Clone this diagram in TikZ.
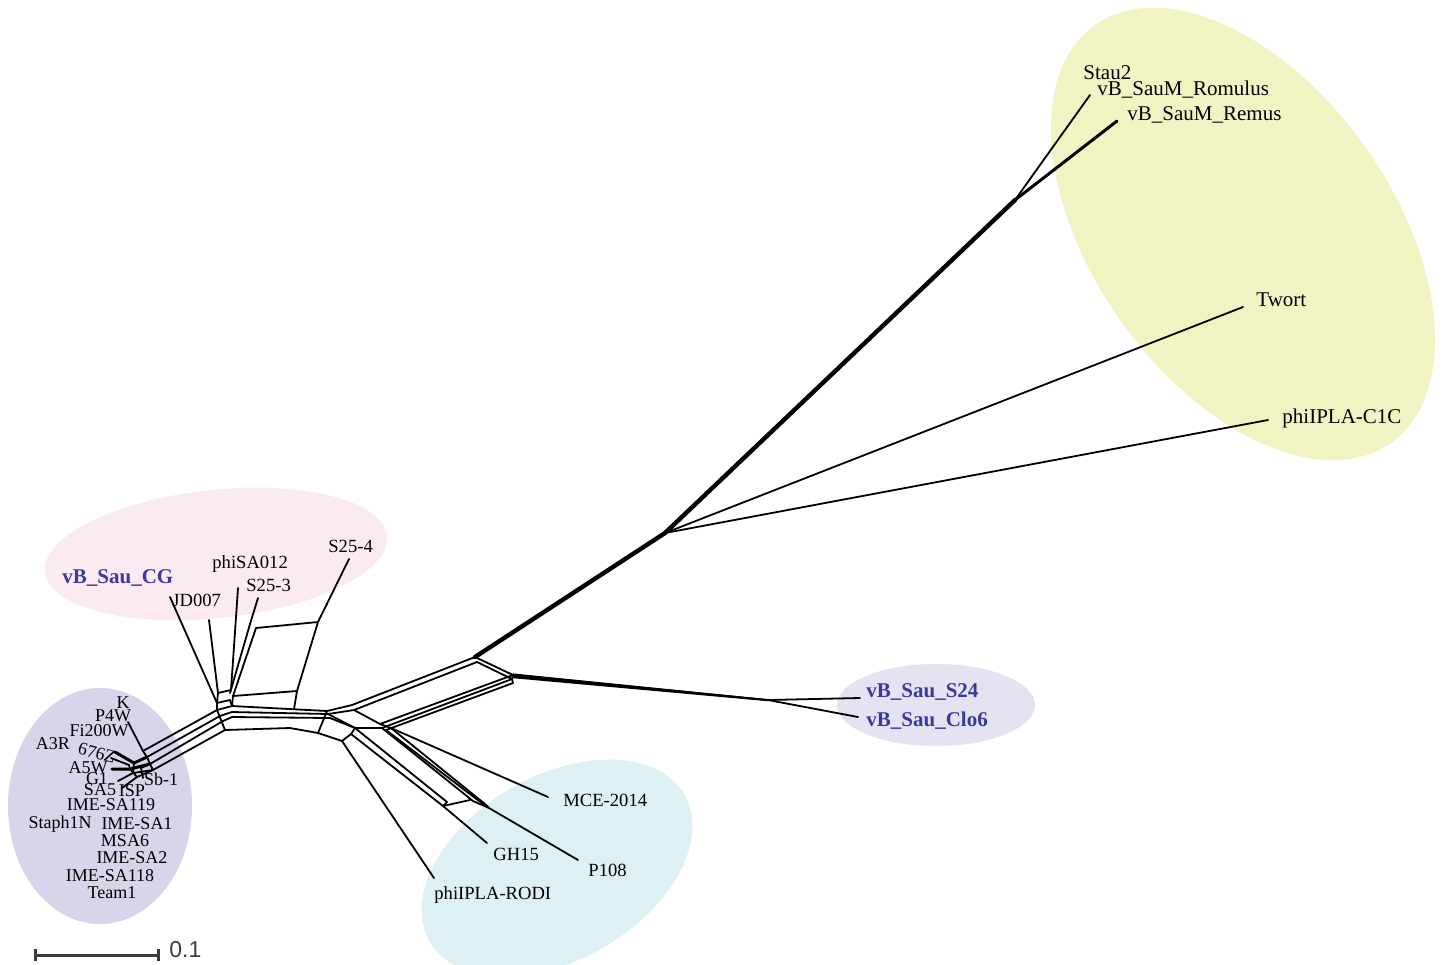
\documentclass[tikz,border=0pt]{standalone}
\usepackage{fontspec}
\setmainfont{Liberation Serif}
\newfontfamily\sansf{Liberation Sans}
\definecolor{ylw}{RGB}{242,243,195}
\definecolor{pnk}{RGB}{252,234,242}
\definecolor{lavL}{RGB}{216,213,234}
\definecolor{lavR}{RGB}{229,226,241}
\definecolor{cyn}{RGB}{221,240,244}
\definecolor{cgblue}{RGB}{58,58,158}
\definecolor{barc}{RGB}{60,60,60}
\tikzset{
  edge/.style={line width=0.9pt, line join=round, line cap=round},
  medge/.style={line width=1.5pt, line join=round, line cap=round},
  hedge/.style={line width=2.2pt, line join=round, line cap=round},
  lab/.style={inner sep=0pt, anchor=west, font=\fontsize{10.5}{12}\selectfont},
  slab/.style={inner sep=0pt, anchor=west, font=\fontsize{9.3}{11}\selectfont},
  clab/.style={inner sep=0pt, anchor=center, font=\fontsize{9}{10}\selectfont},
  blab/.style={inner sep=0pt, anchor=west, font=\fontsize{10.5}{12}\selectfont\bfseries, text=cgblue},
}
\begin{document}
\begin{tikzpicture}[x=0.5pt,y=-0.5pt]
\useasboundingbox (0,0) rectangle (1443,964);
\fill[white] (0,0) rectangle (1443,964);
% background ellipses
\coordinate (cY) at (1243,234);
\coordinate (cP) at (216,554);
\coordinate (cL) at (100,806);
\coordinate (cR) at (936,705);
\coordinate (cC) at (557,868);
\fill[ylw, rotate around={-54.7:(cY)}] (cY) ellipse [x radius=256, y radius=150];
\fill[pnk, rotate around={6:(cP)}] (cP) ellipse [x radius=172, y radius=64];
\fill[lavL] (cL) ellipse [x radius=92, y radius=118];
\fill[lavR] (cR) ellipse [x radius=99, y radius=41];
\fill[cyn, rotate around={30:(cC)}] (cC) ellipse [x radius=147, y radius=92];

% ---------- right part of the network ----------
\coordinate (tA) at (475,657);
\coordinate (tA2) at (477,662);
\coordinate (tB) at (513,675);
\coordinate (tB2) at (512,679);
\coordinate (tB3) at (513,683);
\coordinate (tC) at (665,533);
\coordinate (tD) at (1015,200);
\coordinate (eRom) at (1090,95);
\coordinate (eRem) at (1117,121);
\coordinate (eTw) at (1243,307);
\coordinate (eC1C) at (1268,420);
\coordinate (tS) at (768,700);
\coordinate (eS24) at (860,698);
\coordinate (eClo) at (858,717);

\draw[hedge] (tA) -- (tC) -- (tD);
\draw[medge] (tD) -- (eRem);
\draw[edge] (tD) -- (eRom);
\draw[edge] (tC) -- (eTw);
\draw[edge] (tC) -- (eC1C);
\draw[edge] (tA) -- (tB);
\draw[edge] (tA2) -- (tB2);
\fill ([yshift=0.8pt]tB) -- ([yshift=0.4pt]tS) -- ([yshift=-0.6pt]tS) -- ([yshift=-1.6pt]tB) -- cycle;
\draw[edge] (tB) -- (tS);
\draw[edge] (tB) -- (tB2) -- (tB3);
\draw[edge] (tS) -- (eS24);
\draw[edge] (tS) -- (eClo);

% ---------- central hub ----------
\coordinate (u1) at (352,705);
\coordinate (u2) at (354,710);
\coordinate (v1) at (380,724);
\coordinate (v2) at (382,728);
\coordinate (v3) at (386,730);
\coordinate (v4) at (391,728);
\coordinate (w1) at (355,728);
\coordinate (w2) at (351,734);
\coordinate (x1) at (342,741);
\coordinate (hr1) at (327,711);
\coordinate (hr2) at (328,714);
\coordinate (hr3) at (330,718);
\coordinate (hb) at (318,733);

\draw[edge] (hr1) -- (u1) -- (tA);
\draw[edge] (hr2) -- (u2) -- (tA2);
\draw[edge] (u2) -- (v1) -- (tB);
\draw[edge] (v2) -- (tB2);
\draw[edge] (v3) -- (tB3);
\draw[edge] (hr2) -- (w1) -- (v2);
\draw[edge] (hr3) -- (w1);
\draw[edge] (hb) -- (x1) -- (w2) -- (w1);
\draw[edge] (hr1) -- (hb);

% downward branches
\coordinate (eRodi) at (434,878);
\coordinate (g1) at (443,806);
\coordinate (g2) at (447,802);
\coordinate (eGH) at (487,843);
\coordinate (p0) at (470,800);
\coordinate (p1) at (473,801);
\coordinate (p2) at (479,801);
\coordinate (p3) at (485,804);
\coordinate (pc) at (489,808);
\coordinate (eP108) at (578,860);
\coordinate (eMCE) at (548,797);

\draw[edge] (x1) -- (eRodi);
\draw[edge] (w2) -- (g1) -- (eGH);
\draw[edge] (w1) -- (g2) -- (g1);
\draw[edge] (g1) -- (p0);
\draw[edge] (v2) -- (p1) -- (pc);
\draw[edge] (v3) -- (p2) -- (pc);
\draw[edge] (v4) -- (p3) -- (pc);
\draw[edge] (v1) -- (v4);
\draw[edge] (pc) -- (eP108);
\draw[edge] (v4) -- (eMCE);

% ---------- left horizontal band ----------
\coordinate (h1) at (217,710);
\coordinate (h2) at (220,716);
\coordinate (h3) at (223,721);
\coordinate (h4) at (225,730);
\coordinate (k1) at (232,706);
\coordinate (k2) at (232,712);
\coordinate (k3) at (232,717);
\coordinate (b1) at (290,728);
\coordinate (bx1) at (233,696);
\coordinate (bx2) at (297,691);
\coordinate (bx3) at (294,709);
\draw[edge] (h1) -- (k1) -- (hr1);
\draw[edge] (h2) -- (k2) -- (hr2);
\draw[edge] (h3) -- (k3) -- (hr3);
\draw[edge] (h4) -- (b1) -- (hb);
\draw[edge] (h1) -- (h4);
\draw[edge] (k1) -- (bx1) -- (bx2) -- (bx3);

% upper box and pink-cluster leaves
\coordinate (ub1) at (256,628);
\coordinate (ub2) at (318,622);
\coordinate (eS254) at (349,559);
\coordinate (eS253) at (258,598);
\coordinate (s3a) at (250,624);
\coordinate (s3b) at (230,693);
\coordinate (ePhi) at (238,588);
\coordinate (phb) at (231,690);
\coordinate (eCG) at (170,597);
\coordinate (cgb) at (217,703);
\coordinate (eJD) at (209,620);
\coordinate (jdb) at (218,693);
\coordinate (cgc) at (230,700);
\draw[edge] (ub1) -- (ub2) -- (eS254);
\draw[edge] (ub2) -- (bx2);
\draw[edge] (ub1) -- (bx1);
\draw[edge] (eS253) -- (s3a) -- (s3b);
\draw[edge] (ePhi) -- (phb);
\draw[edge] (eCG) -- (cgb) -- (h1);
\draw[edge] (eJD) -- (jdb) -- (phb);
\draw[edge] (cgb) -- (cgc) -- (k1);
\draw[edge] (jdb) -- (cgb);

% ---------- left cluster ----------
\coordinate (L1) at (143,751);
\coordinate (L2) at (147,757);
\coordinate (L3) at (150,764);
\coordinate (L4) at (153,770);
\draw[edge] (L1) -- (h1);
\draw[edge] (L2) -- (h2);
\draw[edge] (L3) -- (h3);
\draw[edge] (L4) -- (h4);
\draw[edge] (L1) -- (L2) -- (L3) -- (L4);
\coordinate (eK) at (128,722);
\coordinate (e676) at (115,752);
\coordinate (c1) at (134,763);
\coordinate (e676b) at (111,758);
\coordinate (c1b) at (129,765);
\coordinate (eA5W) at (112,769);
\coordinate (c2) at (130,769);
\coordinate (eG1) at (118,781);
\coordinate (c3) at (133,773);
\coordinate (eSA5) at (122,788);
\coordinate (c4) at (137,777);
\coordinate (eSb) at (143,778);
\coordinate (c5) at (141,768);
\draw[edge] (eK) -- (L1);
\draw[medge] (e676) -- (c1) -- (L2);
\draw[edge] (e676b) -- (c1b) -- (c2);
\draw[medge] (eA5W) -- (c2) -- (L3);
\draw[edge] (eG1) -- (c3) -- (L4);
\draw[edge] (eSA5) -- (c4) -- (L4);
\draw[edge] (eSb) -- (c5) -- (L3);
\draw[edge] (c1) -- (c3);
\draw[edge] (c2) -- (c4);

% ---------- labels ----------
\node[lab] (nStau) at (1083,73) {Stau2};
\node[lab] (nRom) at (1097,90) {vB\_SauM\_Romulus};
\node[lab] (nRem) at (1127,115) {vB\_SauM\_Remus};
\node[lab] (nTw) at (1256,300) {Twort};
\node[lab] (nC1C) at (1282,418) {phiIPLA-C1C};
\node[blab] (nS24) at (866,692) {vB\_Sau\_S24};
\node[blab] (nClo) at (866,721) {vB\_Sau\_Clo6};
\node[slab] (nMCE) at (563,800) {MCE-2014};
\node[slab] (nP108) at (588,870) {P108};
\node[slab] (nGH) at (493,854) {GH15};
\node[slab] (nRodi) at (434,895) {phiIPLA-RODI};
\node[blab] (nCG) at (62,578) {vB\_Sau\_CG};
\node[slab] (nPhi) at (212,564) {phiSA012};
\node[slab] (nS253) at (246,585) {S25-3};
\node[slab] (nJD) at (172,600) {JD007};
\node[slab] (nS254) at (328,546) {S25-4};

\node[clab] (nK) at (123,703) {K};
\node[clab] (nP4W) at (113,716) {P4W};
\node[clab] (nFi) at (99,731) {Fi200W};
\node[clab] (nA3R) at (53,744) {A3R};
\node[clab, rotate=-15] (n676) at (97,753) {676Z};
\node[clab] (nA5W) at (88,768) {A5W};
\node[clab] (nG1) at (97,779) {G1};
\node[clab] (nSb) at (161,779) {Sb-1};
\node[clab] (nSA5) at (100,790) {SA5};
\node[clab] (nISP) at (132,791) {ISP};
\node[clab] (nI119) at (111,805) {IME-SA119};
\node[clab] (nSt1N) at (60,824) {Staph1N};
\node[clab] (nI1) at (137,824) {IME-SA1};
\node[clab] (nMSA6) at (125,841) {MSA6};
\node[clab] (nI2) at (132,858) {IME-SA2};
\node[clab] (nI118) at (110,876) {IME-SA118};
\node[clab] (nTeam) at (112,893) {Team1};

% ---------- scale bar ----------
\coordinate (sb1) at (35,955);
\coordinate (sb2) at (158,955);
\draw[barc, line width=1.5pt] (sb1) -- (sb2);
\draw[barc, line width=1.5pt] ([yshift=-3pt]sb1) -- ([yshift=3pt]sb1);
\draw[barc, line width=1.5pt] ([yshift=-3pt]sb2) -- ([yshift=3pt]sb2);
\node[inner sep=0pt, anchor=west, text=barc, font=\sansf\fontsize{11.5}{13}\selectfont] (nScale) at (169,950) {0.1};
\end{tikzpicture}
\end{document}
